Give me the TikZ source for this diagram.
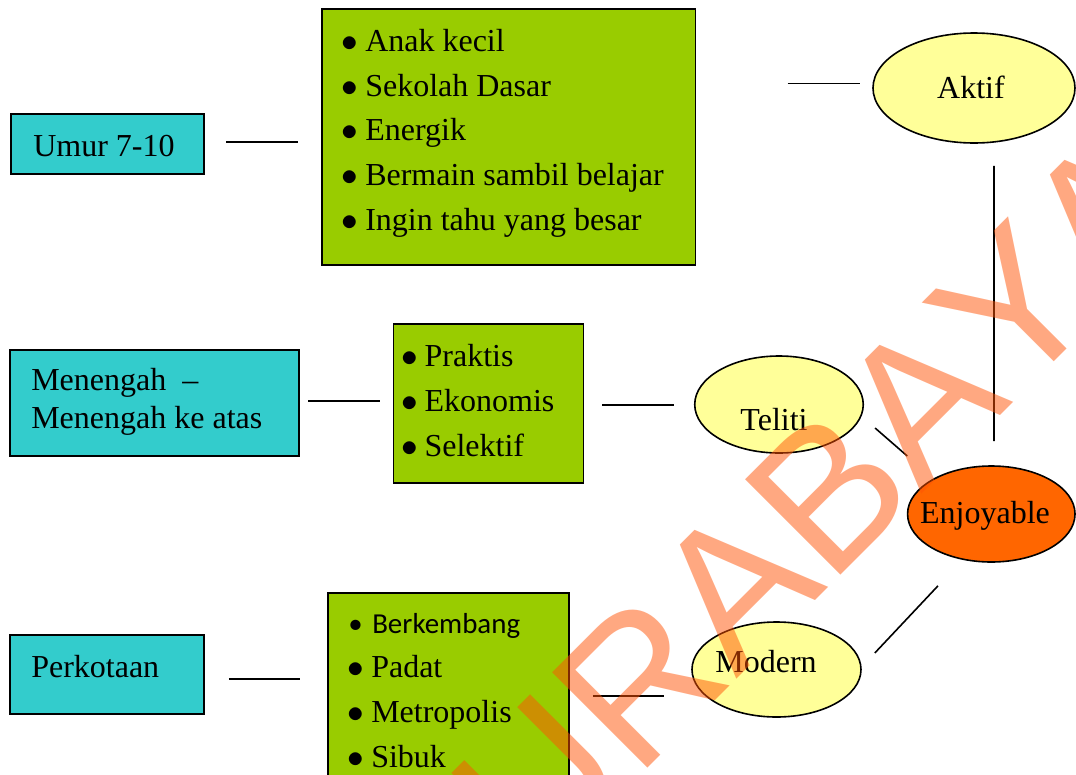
\documentclass[tikz,border=0pt]{standalone}
\usepackage{fontspec}
\setmainfont{Liberation Serif}
\newfontfamily\calibrifont{Carlito}
\newfontfamily\wmfont[Kerning=Off]{Liberation Sans}
\usetikzlibrary{shapes.geometric,fit,calc}
\definecolor{boxcyan}{HTML}{33CCCC}
\definecolor{boxgreen}{HTML}{99CC00}
\definecolor{ovalyellow}{HTML}{FFFF99}
\definecolor{ovalorange}{HTML}{FF6600}
\definecolor{wmcolor}{RGB}{255,83,5}
\newcommand\itm[2][18pt]{\makebox[#1][l]{$\bullet$}#2}
\newcommand\itmc[2][18pt]{\makebox[#1][l]{\textbullet}#2}
\begin{document}
\begin{tikzpicture}[x=0.75pt,y=-0.75pt,
  cbox/.style={draw=black, line width=1.2pt, fill=boxcyan, inner sep=0pt},
  gbox/.style={draw=black, line width=1.2pt, fill=boxgreen, inner sep=0pt},
  oval/.style={ellipse, draw=black, line width=1.2pt, inner sep=0pt},
  txt/.style={inner sep=0pt, anchor=base west, font=\fontsize{24}{29}\selectfont},
  ctxt/.style={inner sep=0pt, anchor=base, font=\fontsize{24}{29}\selectfont},
  ctxtc/.style={inner sep=0pt, anchor=base west, font=\calibrifont\fontsize{21.7}{26}\selectfont},
  conn/.style={line width=1.2pt},
  wm/.style={rotate=45, anchor=base, inner sep=0pt, text=wmcolor, text opacity=0.5,
             font=\wmfont\fontsize{147}{147}\selectfont}]
\useasboundingbox (0,0) rectangle (1076,775);
\fill[white] (0,0) rectangle (1076,775);

% boxes
\node[cbox, fit={(11,114) (204,174)}] (umur) {};
\node[cbox, fit={(10,350) (299,456)}] (menen) {};
\node[cbox, fit={(10,635) (204,714)}] (perk) {};
\node[gbox, fit={(322,9) (695.6,265)}] (g1) {};
\node[gbox, fit={(393.6,324) (583.4,483)}] (g2) {};
\node[gbox, fit={(328,593) (569,800)}] (g3) {};

% ovals
\node[oval, fill=ovalyellow, minimum width=151.5pt, minimum height=82.5pt] (aktif) at (974,88) {};
\node[oval, fill=ovalyellow, minimum width=126.4pt, minimum height=72.75pt] (teliti) at (779,404.5) {};
\node[oval, fill=ovalorange, minimum width=125.6pt, minimum height=72pt] (enjoy) at (991.3,514) {};
\node[oval, fill=ovalyellow, minimum width=126.75pt, minimum height=71.25pt] (modern) at (776.5,669.5) {};

% texts in boxes
\node[txt] (umurT) at (33,156) {Umur 7-10};
\node[txt] (menenT1) at (31,390) {Menengah\ \ –};
\node[txt] (menenT2) at (31,428) {Menengah ke atas};
\node[txt] (perkT) at (31,677) {Perkotaan};

\node[txt] (g1a) at (341,51) {\itm{Anak kecil}};
\node[txt] (g1b) at (341,96) {\itm{Sekolah Dasar}};
\node[txt] (g1c) at (341,140) {\itm{Energik}};
\node[txt] (g1d) at (341,185) {\itm{Bermain sambil belajar}};
\node[txt] (g1e) at (341,230) {\itm{Ingin tahu yang besar}};

\node[txt] (g2a) at (401,366) {\itm[17.5pt]{Praktis}};
\node[txt] (g2b) at (401,411) {\itm[17.5pt]{Ekonomis}};
\node[txt] (g2c) at (401,456) {\itm[17.5pt]{Selektif}};

\node[ctxtc] (g3a) at (348,633) {\itmc{Berkembang}};
\node[txt] (g3b) at (347,677) {\itm{Padat}};
\node[txt] (g3c) at (347,722) {\itm{Metropolis}};
\node[txt] (g3d) at (347,767) {\itm{Sibuk}};

% oval texts
\node[ctxt] (aktifT) at (971,98) {Aktif};
\node[ctxt] (telitiT) at (774,430) {Teliti};
\node[ctxt] (enjoyT) at (985,523) {Enjoyable};
\node[ctxt] (modernT) at (766,672.7) {Modern};

% connectors
\draw[conn] ($(umur.east)+(21.5,-2)$) -- ($(g1.west |- umur.east)+(-23,-2)$);
\draw[conn] ($(menen.east)+(8.5,-2)$) -- ($(g2.west)+(-13,-2.5)$);
\draw[conn] ($(g2.east)+(18,1.5)$) -- ($(teliti.west)+(-19.5,0.5)$);
\draw[conn] ($(g1.east)+(91.2,-53.7)$) -- ($(aktif.west)+(-12.7,-4.7)$);
\draw[conn] ($(perk.east)+(24,4.5)$) -- ($(g3.west)+(-27.4,-17.5)$);
\draw[conn] ($(g3.east)+(23,-0.5)$) -- ($(modern.west)+(-27,26.5)$);
\draw[conn] ($(aktif.south)+(20,22)$) -- ($(enjoy.north)+(2.7,-24)$);
\draw[conn] ($(teliti.east)+(11,23.5)$) -- ($(enjoy.west)+(0.5,-58)$);
\draw[conn] ($(enjoy.south)+(-53.3,23)$) -- ($(modern.east)+(13,-16.5)$);

% watermark
\node[wm] (wmark) at (821.7,594.3) {SURABAYA};
\end{tikzpicture}
\end{document}
